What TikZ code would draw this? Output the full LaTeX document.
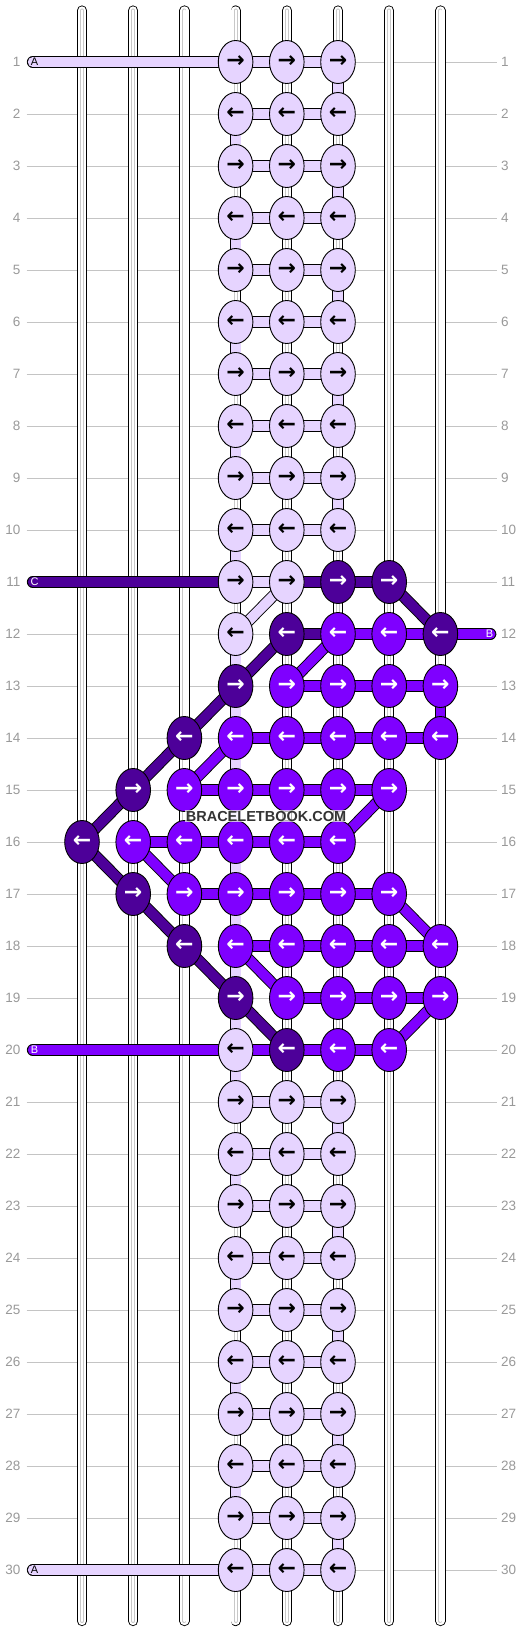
\documentclass[tikz,border=0pt]{standalone}
\usepackage{fontspec}
\setmainfont{Liberation Sans}
\newfontfamily\arrowfont{DejaVu Sans}
\usetikzlibrary{shapes.geometric}

\definecolor{lav}{HTML}{E6D4FF}
\definecolor{drk}{HTML}{4D0099}
\definecolor{brt}{HTML}{7F00FF}
\definecolor{rulegray}{HTML}{C4C4C4}
\definecolor{numgray}{HTML}{999999}
\definecolor{strandgray}{HTML}{C8C8C8}
\definecolor{markgray}{HTML}{333333}

\pgfdeclarelayer{rules}
\pgfdeclarelayer{strands}
\pgfdeclarelayer{bars}
\pgfsetlayers{rules,strands,bars,main}

\newcommand{\toR}{→}
\newcommand{\toL}{←}
% knot at row #1, column #2; odd rows point right
\newcommand{\knot}[3]{\node[knot,#3] (k-#1-#2) at ({82+(#2-1)*51.2},{62+(#1-1)*52}) {\ifodd#1\relax\toR\else\toL\fi};}

\tikzset{
  knot/.style={ellipse, draw=black, line width=0.9pt, minimum width=34.6pt, minimum height=43pt, inner sep=0pt, font=\arrowfont\bfseries\fontsize{22}{22}\selectfont},
  lightknot/.style={fill=lav, text=black},
  darkknot/.style={fill=drk, text=white},
  brightknot/.style={fill=brt, text=white},
  bar/.style={draw=black, line width=0.9pt, double=#1, double distance=9.8pt},
  strand/.style={draw=black, line cap=round, line width=0.9pt, double=white, double distance=8.4pt, postaction={draw=strandgray, line width=0.9pt, double=white, double distance=2.2pt}},
  rownum/.style={inner sep=0pt, text=numgray, font=\fontsize{13.5}{13.5}\selectfont},
  tag/.style={inner sep=0pt, font=\fontsize{11}{11}\selectfont},
}

\begin{document}
\begin{tikzpicture}[x=1pt,y=-1pt]
\useasboundingbox (0,0) rectangle (532,1632);

% row numbers
\foreach \r in {1,...,30}{
  \node[rownum, anchor=east] (ln-\r) at (20.5,{62+(\r-1)*52}) {\r};
  \node[rownum, anchor=west] (rn-\r) at (501,{62+(\r-1)*52}) {\r};
}

% knots
\foreach \r in {1,2,...,10,21,22,...,30}{
  \foreach \c in {4,5,6}{\knot{\r}{\c}{lightknot}}
}
\foreach \r/\c in {11/4, 11/5, 12/4, 20/4}{\knot{\r}{\c}{lightknot}}
\foreach \r/\c in {11/6, 11/7, 12/5, 12/8, 13/4, 14/3, 15/2, 16/1, 17/2, 18/3, 19/4, 20/5}{\knot{\r}{\c}{darkknot}}
\foreach \r/\p/\q in {12/6/7, 13/5/8, 14/4/8, 15/3/7, 16/2/6, 17/3/7, 18/4/8, 19/5/8, 20/6/7}{
  \foreach \c in {\p,...,\q}{\knot{\r}{\c}{brightknot}}
}

% loose ends
\coordinate (A-in) at (32.7,62);
\coordinate (A-out) at (32.7,1570);
\coordinate (C-in) at (32.7,582);
\coordinate (B-in) at (32.7,1050);
\coordinate (B-right) at (490.5,634);
\node[tag, text=black] (tag-A1) at (34.5,62) {A};
\node[tag, text=black] (tag-A2) at (34.5,1570) {A};
\node[tag, text=white] (tag-C) at (34.5,582) {C};
\node[tag, text=white] (tag-B1) at (34.5,1050) {B};
\node[tag, text=white] (tag-B2) at (489.5,634) {B};

\node[fill=white, fill opacity=0.7, text opacity=1, text=markgray, inner sep=1pt,
  font=\bfseries\fontsize{14.5}{14.5}\selectfont] (mark) at (266,816) {BRACELETBOOK.COM};

\begin{pgfonlayer}{rules}
  \foreach \r in {1,...,30}
    \draw[rulegray, line width=0.9pt] ([xshift=6pt]ln-\r.east) -- ([xshift=-4pt]rn-\r.west);
\end{pgfonlayer}

\begin{pgfonlayer}{strands}
  \foreach \c in {1,...,8}{
    \coordinate (top-\c) at ({82+(\c-1)*51.2},10.5);
    \coordinate (bot-\c) at ({82+(\c-1)*51.2},1621);
    \draw[strand] (top-\c) -- (bot-\c);
  }
\end{pgfonlayer}

\begin{pgfonlayer}{bars}
  % light thread
  \draw[bar=lav, line cap=round] (A-in) -- (k-1-4.center);
  \draw[bar=lav, line cap=round] (A-out) -- (k-30-4.center);
  \foreach \r in {1,2,...,11,21,22,...,30}
    \draw[bar=lav] (k-\r-4.center) -- (k-\r-5.center);
  \foreach \r in {1,2,...,10,21,22,...,30}
    \draw[bar=lav] (k-\r-5.center) -- (k-\r-6.center);
  \foreach \r in {1,2,...,10,20,21,...,29}{
    \pgfmathtruncatemacro{\c}{mod(\r,2)==1 ? 6 : 4}
    \pgfmathtruncatemacro{\n}{\r+1}
    \draw[bar=lav] (k-\r-\c.center) -- (k-\n-\c.center);
  }
  \foreach \r in {12,...,19}{
    \pgfmathtruncatemacro{\n}{\r+1}
    \draw[bar=lav] (k-\r-4.center) -- (k-\n-4.center);
  }
  \draw[bar=lav] (k-11-5.center) -- (k-12-4.center);
  % dark thread
  \draw[bar=drk, line cap=round] (C-in) -- (k-11-4.center);
  \draw[bar=drk] (k-11-5.center) -- (k-11-7.center) -- (k-12-8.center);
  \draw[bar=drk] (k-12-5.center) -- (k-12-6.center);
  \draw[bar=drk] (k-12-5.center) -- (k-13-4.center) -- (k-14-3.center) -- (k-15-2.center) -- (k-16-1.center)
    -- (k-17-2.center) -- (k-18-3.center) -- (k-19-4.center) -- (k-20-5.center);
  % bright thread
  \draw[bar=brt, line cap=round] (k-12-6.center) -- (B-right);
  \draw[bar=brt, line cap=round] (B-in) -- (k-20-7.center);
  \foreach \r/\p/\q in {13/5/8, 14/4/8, 15/3/7, 16/2/6, 17/3/7, 18/4/8, 19/5/8}
    \draw[bar=brt] (k-\r-\p.center) -- (k-\r-\q.center);
  \foreach \a/\b in {12-6/13-5, 14-4/15-3, 16-2/17-3, 15-7/16-6, 17-7/18-8, 19-8/20-7, 18-4/19-5, 13-8/14-8}
    \draw[bar=brt] (k-\a.center) -- (k-\b.center);
\end{pgfonlayer}
\end{tikzpicture}
\end{document}
